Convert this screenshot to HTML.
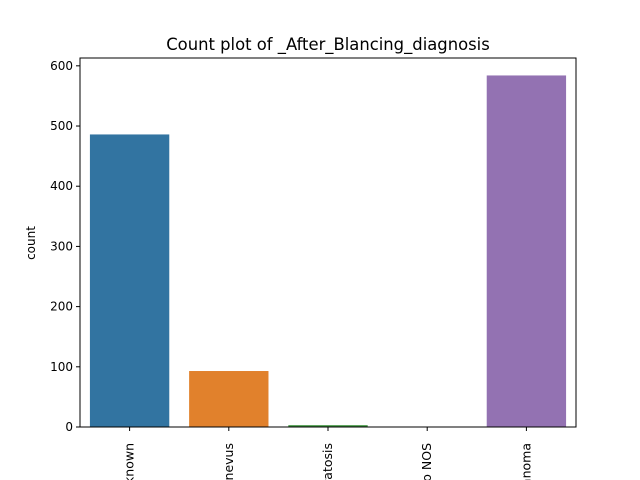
<!DOCTYPE html>
<html><head><meta charset="utf-8"><style>html,body{margin:0;background:#fff;width:640px;height:480px;overflow:hidden}svg{display:block;overflow:hidden;font-family:"DejaVu Sans","Liberation Sans",sans-serif}</style></head>
<body>
<svg id="chart" width="640" height="480" xmlns="http://www.w3.org/2000/svg">
<rect width="640" height="480" fill="#fff"/>
<text x="328" y="50" font-size="16.4" text-anchor="middle">Count plot of _After_Blancing_diagnosis</text>
<text transform="translate(35,243) rotate(-90)" font-size="12" text-anchor="middle">count</text>
<g id="marks"></g>
<rect x="80" y="58" width="496" height="369" fill="none" stroke="#000" stroke-width="1"/>
</svg>
<script>
const categories = ["unknown","nevus","seborrheic keratosis","lentigo NOS","melanoma"];
const counts = [486, 93, 3, 0, 584];
const colors = ["#3274a1","#e1812c","#3a923a","#c03d3e","#9372b2"];
const yTicks = [0,100,200,300,400,500,600];
const L=80,R=576,T=58,B=427;
const yMax=613;
function y(v){return B-(v/yMax)*(B-T);}
const band=(R-L)/categories.length;
function xc(i){return L+band*(i+0.5);}
const g=document.getElementById('marks');
const NS="http://www.w3.org/2000/svg";
categories.forEach((c,i)=>{
  const r=document.createElementNS(NS,'rect');
  r.setAttribute('x',xc(i)-band*0.4);r.setAttribute('width',band*0.8);
  r.setAttribute('y',y(counts[i]));r.setAttribute('height',B-y(counts[i]));
  r.setAttribute('fill',colors[i]);
  
  
  g.appendChild(r);
  const t=document.createElementNS(NS,'line');
  t.setAttribute('x1',xc(i));t.setAttribute('x2',xc(i));t.setAttribute('y1',B);t.setAttribute('y2',B+4);
  t.setAttribute('stroke','#000');
  
  
  g.appendChild(t);
  const tx=document.createElementNS(NS,'text');
  tx.setAttribute('transform','translate('+(xc(i)+4)+','+(B+16)+') rotate(-90)');
  tx.setAttribute('font-size','12.5');tx.setAttribute('text-anchor','end');
  tx.textContent=c;
  
  
  g.appendChild(tx);
});
yTicks.forEach(v=>{
  const t=document.createElementNS(NS,'line');
  t.setAttribute('x1',L-4);t.setAttribute('x2',L);t.setAttribute('y1',y(v));t.setAttribute('y2',y(v));
  t.setAttribute('stroke','#000');
  
  
  g.appendChild(t);
  const tx=document.createElementNS(NS,'text');
  tx.setAttribute('x',L-7);tx.setAttribute('y',y(v)+4);
  tx.setAttribute('font-size','12');tx.setAttribute('text-anchor','end');
  tx.textContent=v;
  
  
  g.appendChild(tx);
});
</script>
</body></html>
